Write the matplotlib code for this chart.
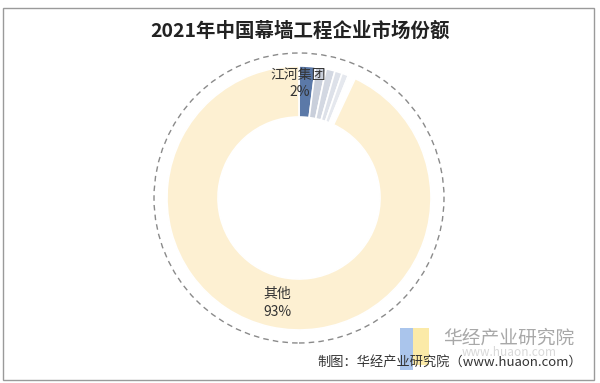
import matplotlib as mpl
mpl.use('Agg')
from matplotlib import pyplot as plt
from matplotlib.patches import Circle, Rectangle

plt.rcParams['font.family'] = ['Noto Sans CJK SC', 'DejaVu Sans']

title = '2021年中国幕墙工程企业市场份额'
names = ['江河集团', '企业B', '企业C', '企业D', '企业E', '企业F', '其他']
shares = [2.0, 1.3, 1.1, 0.9, 0.8, 0.9, 93.0]
colors = ['#5b79a8', '#c9cfdb', '#d3d8e2', '#dde1e9', '#e5e8ee', '#ffffff', '#fdf0d2']

fig = plt.figure(figsize=(6, 3.83), dpi=100)
ax = fig.add_axes([0, 0, 1, 1])
ax.axis('off')

# outer frame
ax.add_patch(Rectangle((3, 3), 591, 372, fill=False, edgecolor='#9a9a9a', linewidth=1))

cx, cy = 299, 185
ax.pie(shares, colors=colors, startangle=90, counterclock=False,
       center=(cx, cy), radius=132,
       wedgeprops=dict(width=51, edgecolor='white', linewidth=1.2))
ax.set_aspect('equal')
ax.set_xlim(0, 600)
ax.set_ylim(0, 383)

ax.add_patch(Circle((cx, cy), 145, fill=False, edgecolor='#8a8a8a',
                    linestyle=(0, (4, 3)), linewidth=1))

ax.text(298, 308, names[0], ha='center', va='center', fontsize=10, color='#333333')
ax.text(300, 291, '%d%%' % shares[0], ha='center', va='center', fontsize=10, color='#333333')
ax.text(277, 89, names[-1], ha='center', va='center', fontsize=10, color='#333333')
ax.text(277, 71, '%d%%' % shares[-1], ha='center', va='center', fontsize=10, color='#333333')

ax.text(300, 352, title, ha='center', va='center', fontsize=14, fontweight='bold',
        color='#222222')

# watermark
ax.add_patch(Rectangle((400, 13), 13, 42, color='#aac5ec', linewidth=0))
ax.add_patch(Rectangle((413, 18), 16, 37, color='#fbeaa8', linewidth=0))
ax.text(509, 45, '华经产业研究院', ha='center', va='center', fontsize=13.5, color='#a8a8a8')
ax.text(509, 30, 'www.huaon.com', ha='center', va='center', fontsize=8.5, color='#d8d8d8')

ax.text(582, 21, '制图：华经产业研究院（www.huaon.com）', ha='right', va='center',
        fontsize=9.5, color='#333333')

fig.savefig('out.png', dpi=100)
